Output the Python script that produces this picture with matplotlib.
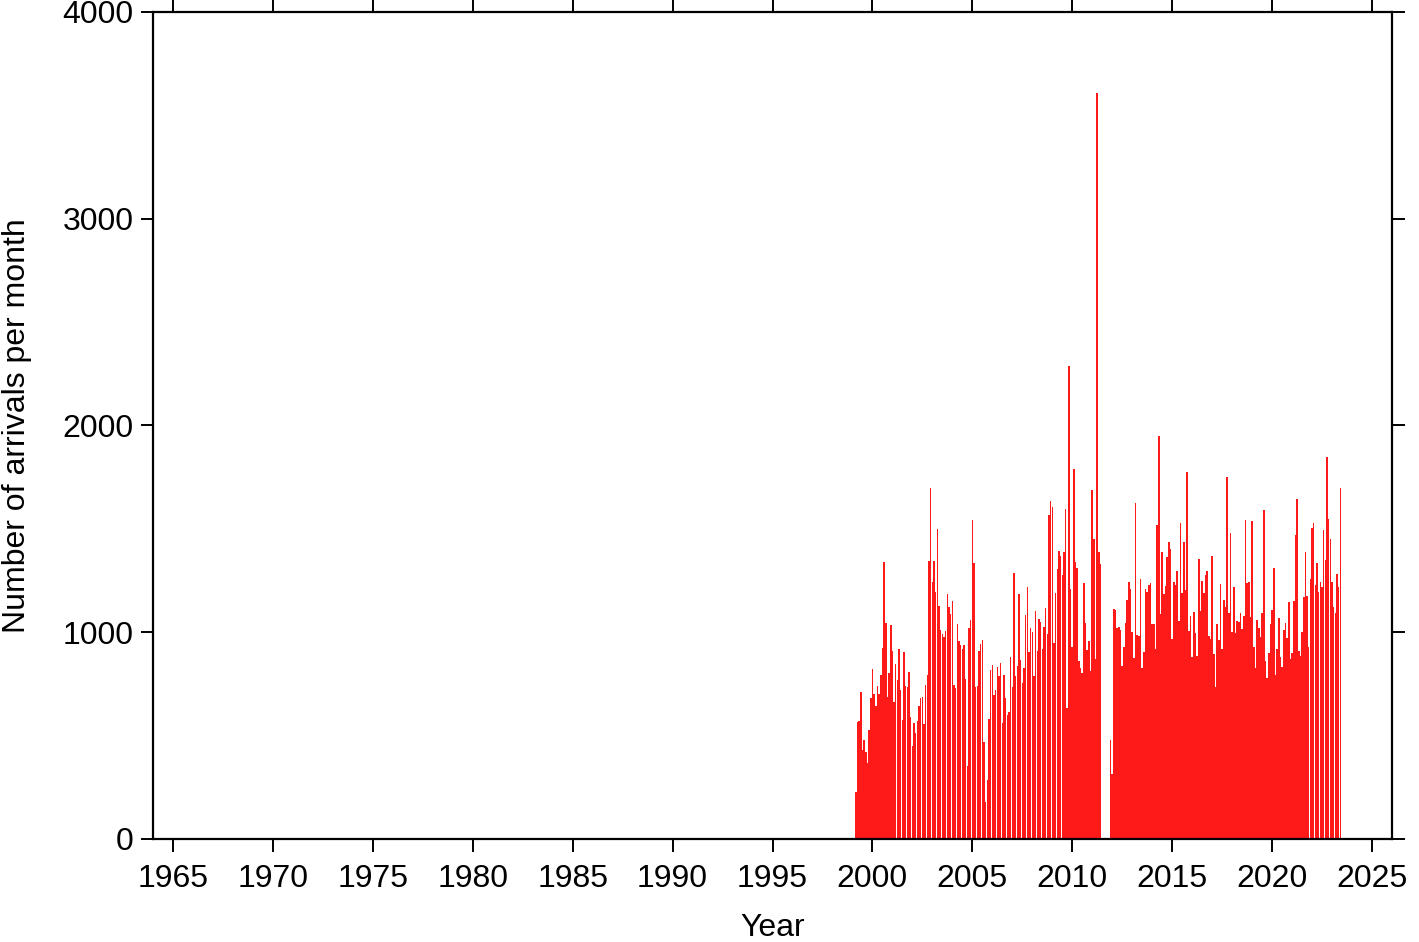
import numpy as np
import matplotlib
matplotlib.use("Agg")
import matplotlib.pyplot as plt

plt.rcParams["font.family"] = ["Liberation Sans", "DejaVu Sans"]

# monthly arrival counts, first month = Mar 1999
start_year, start_month = 1999, 3
counts = [
    229, 567, 570, 712, 430, 479, 422, 369, 527, 684,
    824, 701, 643, 740, 700, 793, 925, 1338, 1045, 685, 805, 1035,
    909, 664, 846, 769, 917, 721, 576, 906, 742, 737, 809, 592,
    450, 560, 514, 572, 643, 680, 685, 556, 745, 793, 1346, 1696,
    1241, 1346, 1196, 1498, 1127, 1011, 992, 979, 1008, 1185, 1124, 1087,
    1153, 743, 732, 1038, 958, 937, 921, 938, 775, 353, 1019, 1059,
    1543, 1333, 737, 742, 911, 943, 963, 469, 180, 285, 579, 817,
    842, 696, 721, 830, 788, 853, 563, 792, 680, 598, 616, 879,
    737, 1285, 788, 837, 1185, 866, 756, 827, 1083, 1220, 903, 1019,
    1000, 788, 1103, 911, 1063, 1051, 917, 1024, 1116, 992, 1567, 1635,
    1604, 950, 1188, 1304, 1393, 1369, 1277, 1390, 1595, 632, 2290, 1208,
    930, 1788, 1341, 1309, 863, 826, 805, 1237, 1046, 914, 959, 814,
    1688, 1449, 869, 3610, 1390, 1330, 0, 0, 0, 0, 0, 479,
    313, 1112, 1108, 1019, 1024, 1011, 838, 927, 1046, 1156, 1245, 1209,
    1001, 874, 1627, 987, 982, 1259, 826, 906, 1208, 1196, 1229, 1240,
    1040, 1040, 921, 1519, 1951, 1088, 1390, 1183, 1224, 1366, 1438, 1401,
    969, 1245, 1230, 1296, 1056, 1527, 1190, 1438, 1204, 1774, 1006, 1079,
    882, 1099, 998, 887, 1353, 1103, 1248, 1191, 1277, 1298, 982, 966,
    1369, 895, 737, 1040, 963, 1232, 917, 1156, 1124, 1749, 1092, 1482,
    1001, 1217, 995, 1054, 1051, 1092, 1014, 1079, 1543, 1240, 1241, 1075,
    1537, 930, 826, 1059, 1019, 979, 1095, 1591, 863, 777, 898, 1040,
    1108, 1312, 793, 917, 1067, 879, 834, 1011, 1046, 971, 1148, 869,
    898, 1151, 1470, 1643, 909, 885, 1003, 1172, 1387, 1177, 930, 1256,
    1503, 1530, 1229, 1333, 1193, 1245, 1220, 1495, 1349, 1846, 1548, 1451,
    1245, 1124, 1092, 1280, 1217, 1696,
]

idx = np.arange(len(counts))
months = start_month - 1 + idx
years = start_year + months / 12.0

fig = plt.figure(figsize=(14.19, 9.42), dpi=100)
ax = fig.add_axes([153 / 1419, 1 - 839 / 942, (1392 - 153) / 1419, (839 - 12) / 942])

ax.bar(years, counts, width=0.92 / 12, color="#ff1a1a", edgecolor="none")

ax.set_xlim(1964, 2026)
ax.set_ylim(0, 4000)
ax.set_xticks(np.arange(1965, 2026, 5))
ax.set_yticks(np.arange(0, 4001, 1000))

for s in ax.spines.values():
    s.set_linewidth(1.6)
ax.tick_params(axis="both", which="major", direction="out", length=9, width=1.4,
               labelsize=23, top=True, right=True)
ax.tick_params(axis="x", pad=9)
ax.tick_params(axis="y", pad=5)

ax.set_xlabel("Year", fontsize=23, labelpad=14)
ax.set_ylabel("Number of arrivals per month", fontsize=23, labelpad=22)

fig.savefig("out.png", dpi=100)
